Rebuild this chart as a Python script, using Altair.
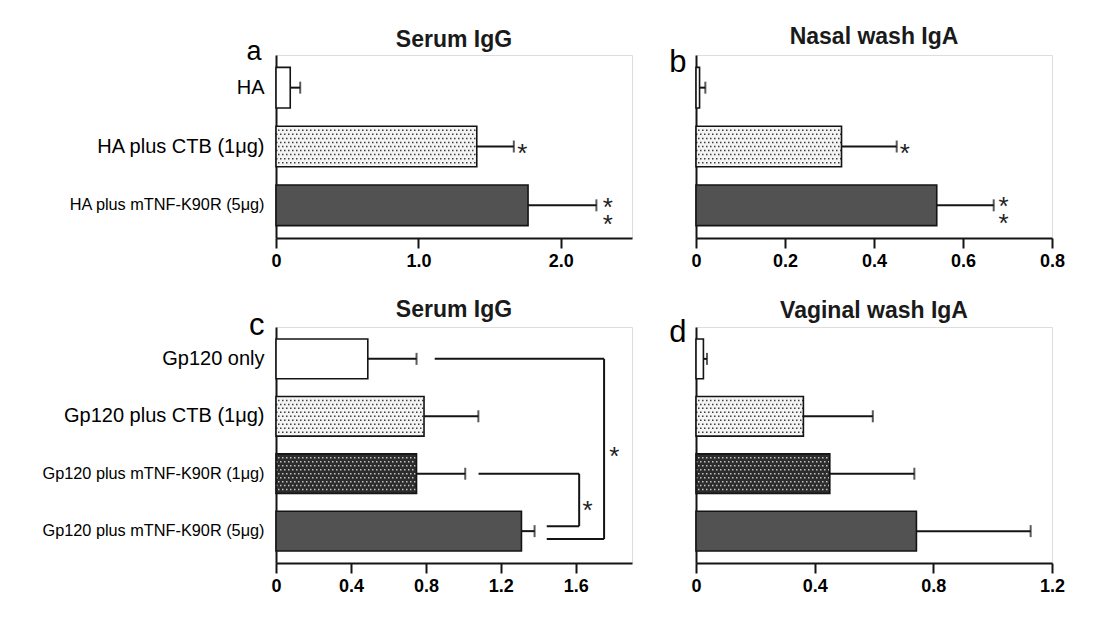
import altair as alt
import pandas as pd

# ---------------- values ----------------
a_groups = ["HA", "HA plus CTB (1μg)", "HA plus mTNF-K90R (5μg)"]
a_kinds = ["plain", "ctb", "mtnf5"]
a_means = [0.10, 1.41, 1.77]
a_errs = [0.07, 0.26, 0.48]
a_ticks = [0, 1.0, 2.0]
a_max = 2.5

b_means = [0.008, 0.327, 0.541]
b_errs = [0.013, 0.124, 0.128]
b_ticks = [0, 0.2, 0.4, 0.6, 0.8]
b_max = 0.8

c_groups = ["Gp120 only", "Gp120 plus CTB (1μg)",
            "Gp120 plus mTNF-K90R (1μg)", "Gp120 plus mTNF-K90R (5μg)"]
c_kinds = ["plain", "ctb", "mtnf1", "mtnf5"]
c_means = [0.49, 0.79, 0.75, 1.31]
c_errs = [0.26, 0.29, 0.26, 0.07]
c_ticks = [0, 0.4, 0.8, 1.2, 1.6]
c_max = 1.9

d_means = [0.025, 0.362, 0.451, 0.743]
d_errs = [0.012, 0.234, 0.285, 0.385]
d_ticks = [0, 0.4, 0.8, 1.2]
d_max = 1.2

# significance marks: row index, x position (data units), text
a_star_rows = [1, 2]
a_star_x = [1.73, 2.33]
a_star_text = [["*"], ["*", "*"]]
b_star_rows = [1, 2]
b_star_x = [0.469, 0.691]
b_star_text = [["*"], ["*", "*"]]
c_star_rows = [2, 3]
c_star_x = [1.806, 1.663]
c_star_text = [["*"], ["*"]]

# comparison brackets of panel c
c_br_from = [0, 2]
c_br_to = [3, 3]
c_br_top_start = [0.847, 1.081]
c_br_bottom_start = [1.445, 1.445]
c_br_x = [1.751, 1.618]

# ---------------- styles ----------------
FONT = "Liberation Sans"
FILL = dict(domain=["plain", "ctb", "mtnf1", "mtnf5"],
            range=["#ffffff", "#f4f4f4", "#2c2c2c", "#525252"])
DOTS = {"ctb": "#3c3c3c", "mtnf1": "#c4c4c4"}
NROWS = 9
INK = "#141414"
a_star_bp = [0.5, 0.39]
b_star_bp = [0.5, 0.36]
c_star_bp = [0.0, 0.0]
c_star_dy = [-4, -7]
c_br_bottom_bp = [0.7, 0.375]


def make_panel(groups, kinds, means, errs, ticks, xmax, title, title_offset, letter,
               letter_size, letter_dx, letter_dy, show_labels, height,
               star_rows, star_x, star_text, star_bp, star_dy=None, brackets=False):
    df = pd.DataFrame({"group": groups, "kind": kinds, "mean": means, "err": errs})
    xscale = alt.Scale(domain=[0, xmax], nice=False, zero=True)
    yscale = alt.Scale(domain=groups, paddingInner=0.31, paddingOuter=0.21)
    xaxis = alt.Axis(values=ticks, title=None, grid=False,
                     labelExpr="datum.value == 0 ? '0' : format(datum.value, '.1f')",
                     tickSize=10, tickWidth=2, tickColor=INK,
                     domainColor=INK, domainWidth=2,
                     labelFont=FONT, labelFontWeight="bold", labelFontSize=18,
                     labelColor="black", labelPadding=4, labelOverlap=False,
                     labelFlush=False)
    yaxis = alt.Axis(title=letter, titleAngle=0, titleAlign="right",
                     titleBaseline="alphabetic", titleX=letter_dx, titleY=letter_dy,
                     titleFontSize=letter_size, titleFontWeight="normal", titleFont=FONT,
                     titleColor="black", ticks=False, labels=show_labels,
                     labelFont=FONT,
                     labelFontSize={"condition": {"test": "indexof(datum.value, 'mTNF') >= 0",
                                                  "value": 16.3},
                                    "value": 20},
                     labelColor="black", labelPadding=12,
                     labelLimit=320, domainColor=INK, domainWidth=2)

    def Y(field="group", bp=None):
        kw = dict(scale=yscale, axis=yaxis)
        if bp is not None:
            kw["bandPosition"] = bp
        return alt.Y(f"{field}:N", **kw)

    def X(field):
        return alt.X(f"{field}:Q", scale=xscale, axis=xaxis)

    base = alt.Chart(df).transform_calculate(hi="datum.mean + datum.err", zero="0")
    layers = [
        base.mark_rule(color=INK, strokeWidth=2).encode(x=X("mean"), x2="hi:Q", y=Y()),
        base.mark_tick(color=INK, thickness=2, size=12).encode(x=X("hi"), y=Y()),
        base.mark_bar(strokeWidth=0).encode(
            x=X("mean"), y=Y(),
            fill=alt.Fill("kind:N", scale=alt.Scale(**FILL), legend=None)),
    ]
    for kind, col in DOTS.items():
        for k in range(1, NROWS + 1):
            layers.append(
                base.transform_filter(alt.datum.kind == kind)
                .mark_rule(color=col, strokeWidth=1.5, strokeDash=[1.5, 2.5],
                           strokeDashOffset=2 if k % 2 else 0)
                .encode(x=X("zero"), x2="mean:Q", y=Y(bp=k / (NROWS + 1))))
    layers.append(base.mark_bar(fillOpacity=0, stroke=INK, strokeWidth=1.6)
                  .encode(x=X("mean"), y=Y()))

    # asterisks
    if star_dy is None:
        star_dy = [0] * len(star_rows)
    for i in range(len(star_rows)):
        sdf = pd.DataFrame({"group": [groups[star_rows[i]]], "x": [star_x[i]]})
        layers.append(alt.Chart(sdf).mark_text(
            text=star_text[i], lineHeight=17, fontSize=26, font=FONT, color="#222",
            baseline="middle", align="center", dy=7 + star_dy[i])
            .encode(x=X("x"), y=Y(bp=star_bp[i])))

    if brackets:
        top = pd.DataFrame({"group": [groups[r] for r in c_br_from],
                            "x1": c_br_top_start, "x2": c_br_x})
        layers.append(alt.Chart(top).mark_rule(color=INK, strokeWidth=2)
                      .encode(x=X("x1"), x2="x2:Q", y=Y(bp=0.5)))
        for i in range(len(c_br_from)):
            bot = pd.DataFrame({"group": [groups[c_br_to[i]]],
                                "x1": [c_br_bottom_start[i]], "x2": [c_br_x[i]]})
            layers.append(alt.Chart(bot).mark_rule(color=INK, strokeWidth=2)
                          .encode(x=X("x1"), x2="x2:Q", y=Y(bp=c_br_bottom_bp[i])))
            ver = pd.DataFrame({"group": [groups[c_br_from[i]]],
                                "group2": [groups[c_br_to[i]]], "x": [c_br_x[i]]})
            layers.append(alt.Chart(ver).mark_rule(color=INK, strokeWidth=2)
                          .encode(x=X("x"), y=Y(bp=0.5),
                                  y2=alt.Y2("group2:N", bandPosition=c_br_bottom_bp[i])))

    return alt.layer(*layers).properties(
        width=356, height=height,
        title=alt.TitleParams(title, fontSize=23, fontWeight="bold", font=FONT,
                              color="#1a1a1a", anchor="middle", frame="group",
                              offset=title_offset))


pa = make_panel(a_groups, a_kinds, a_means, a_errs, a_ticks, a_max, "Serum IgG", -14.5,
                "a", 27, -15, 4, True, 183,
                a_star_rows, a_star_x, a_star_text, a_star_bp)
pb = make_panel(a_groups, a_kinds, b_means, b_errs, b_ticks, b_max, "Nasal wash IgA", -3,
                "b", 31, -10, 16, False, 183,
                b_star_rows, b_star_x, b_star_text, b_star_bp)
pc = make_panel(c_groups, c_kinds, c_means, c_errs, c_ticks, c_max, "Serum IgG", -13,
                "c", 31, -12, 7, True, 236,
                c_star_rows, c_star_x, c_star_text, c_star_bp, c_star_dy, brackets=True)
pd_ = make_panel(c_groups, c_kinds, d_means, d_errs, d_ticks, d_max, "Vaginal wash IgA", -7,
                 "d", 31, -10, 14, False, 236, [], [], [], [])

chart = alt.concat(pa, pb, pc, pd_, columns=2, spacing={"row": 89, "column": 64},
                   bounds="flush", align="each").properties(
    padding={"left": 33, "top": 17, "right": 10, "bottom": 5},
    background="white",
).configure_view(stroke=INK, strokeWidth=2).configure(font=FONT)

chart.save("out.html", embed_options={"renderer": "svg", "actions": False})
